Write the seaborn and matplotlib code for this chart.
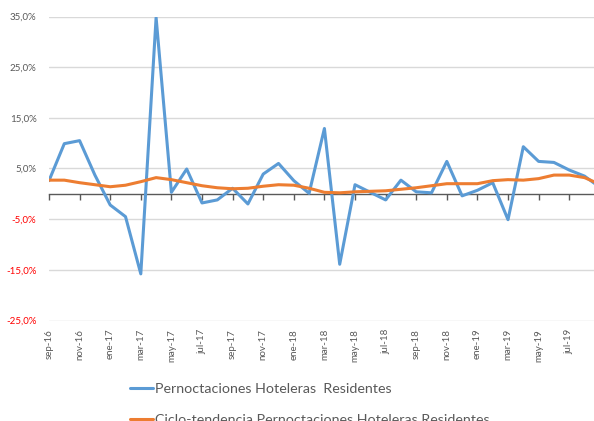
import numpy as np
import pandas as pd
import matplotlib
matplotlib.use("Agg")
import matplotlib.pyplot as plt
import seaborn as sns

# monthly series, sep-16 .. sep-19 (% change)
months = ["sep-16", "oct-16", "nov-16", "dic-16", "ene-17", "feb-17", "mar-17", "abr-17",
          "may-17", "jun-17", "jul-17", "ago-17", "sep-17", "oct-17", "nov-17", "dic-17",
          "ene-18", "feb-18", "mar-18", "abr-18", "may-18", "jun-18", "jul-18", "ago-18",
          "sep-18", "oct-18", "nov-18", "dic-18", "ene-19", "feb-19", "mar-19", "abr-19",
          "may-19", "jun-19", "jul-19", "ago-19", "sep-19"]

residentes = [2.6, 9.9, 10.5, 3.7, -2.2, -4.5, -15.8, 34.8,
              0.3, 4.9, -1.8, -1.2, 1.1, -2.0, 3.9, 6.0,
              2.6, 0.1, 12.9, -13.9, 1.8, 0.3, -1.2, 2.7,
              0.4, 0.2, 6.4, -0.4, 0.7, 2.2, -5.1, 9.3,
              6.4, 6.2, 4.7, 3.5, 1.3]

tendencia = [2.7, 2.7, 2.2, 1.8, 1.4, 1.7, 2.4, 3.2,
             2.8, 2.2, 1.6, 1.2, 1.0, 1.1, 1.5, 1.8,
             1.7, 1.1, 0.3, 0.2, 0.4, 0.5, 0.6, 0.9,
             1.2, 1.6, 2.0, 2.0, 2.0, 2.6, 2.8, 2.7,
             3.0, 3.7, 3.7, 3.2, 1.9]

label_res = "Pernoctaciones Hoteleras  Residentes"
label_tend = "Ciclo-tendencia Pernoctaciones Hoteleras Residentes"

yticks = [-25, -15, -5, 5, 15, 25, 35]

df = pd.DataFrame({"pos": np.arange(len(months)), "res": residentes, "tend": tendencia})

sns.set_style("white")
plt.rcParams["font.family"] = ["Lato", "DejaVu Sans"]
grey = "#595959"

fig = plt.figure(figsize=(5.94, 4.21), dpi=100)
ax = fig.add_axes([49 / 594, 1 - 320.5 / 421, (594 - 49) / 594, 304 / 421])

sns.lineplot(data=df, x="pos", y="res", ax=ax, color="#5B9BD5", lw=2.2, label=label_res)
sns.lineplot(data=df, x="pos", y="tend", ax=ax, color="#ED7D31", lw=2.2, label=label_tend)

ax.set_xlim(0, 35.62)
ax.set_ylim(-25, 35)
ax.set_xlabel("")
ax.set_ylabel("")

ax.set_yticks(yticks)
ax.set_yticklabels([f"{v:.1f}".replace(".", ",") + "%" for v in yticks], fontsize=7)
for t, v in zip(ax.get_yticklabels(), yticks):
    t.set_color("#FF0000" if v < 0 else grey)
ax.tick_params(axis="y", length=0, pad=9)

# labels every two months, last one jul-19
label_pos = list(range(0, 35, 2))
ax.set_xticks(label_pos)
ax.set_xticklabels([months[i] for i in label_pos], rotation=90, fontsize=7, color=grey)
ax.tick_params(axis="x", length=0, pad=6)

ax.grid(axis="y", color="#D9D9D9", lw=1)
ax.grid(axis="x", visible=False)
for s in ax.spines.values():
    s.set_visible(False)

# category axis crossing at 0
sec = ax.secondary_xaxis(25 / 60)
sec.set_xticks(label_pos)
sec.tick_params(axis="x", direction="out", length=4, width=1, color=grey, labelbottom=False)
sec.spines["bottom"].set_color(grey)
sec.spines["bottom"].set_linewidth(1)

ax.get_legend().remove()
h, l = ax.get_legend_handles_labels()
fig.legend(h, l, loc="upper left", bbox_to_anchor=(130 / 594, 1 - 383 / 421),
           frameon=False, fontsize=10.3, labelcolor=grey, handlelength=1.6,
           handletextpad=0.15, labelspacing=1.3, borderpad=0, borderaxespad=0)

fig.savefig("out.png", dpi=100)
